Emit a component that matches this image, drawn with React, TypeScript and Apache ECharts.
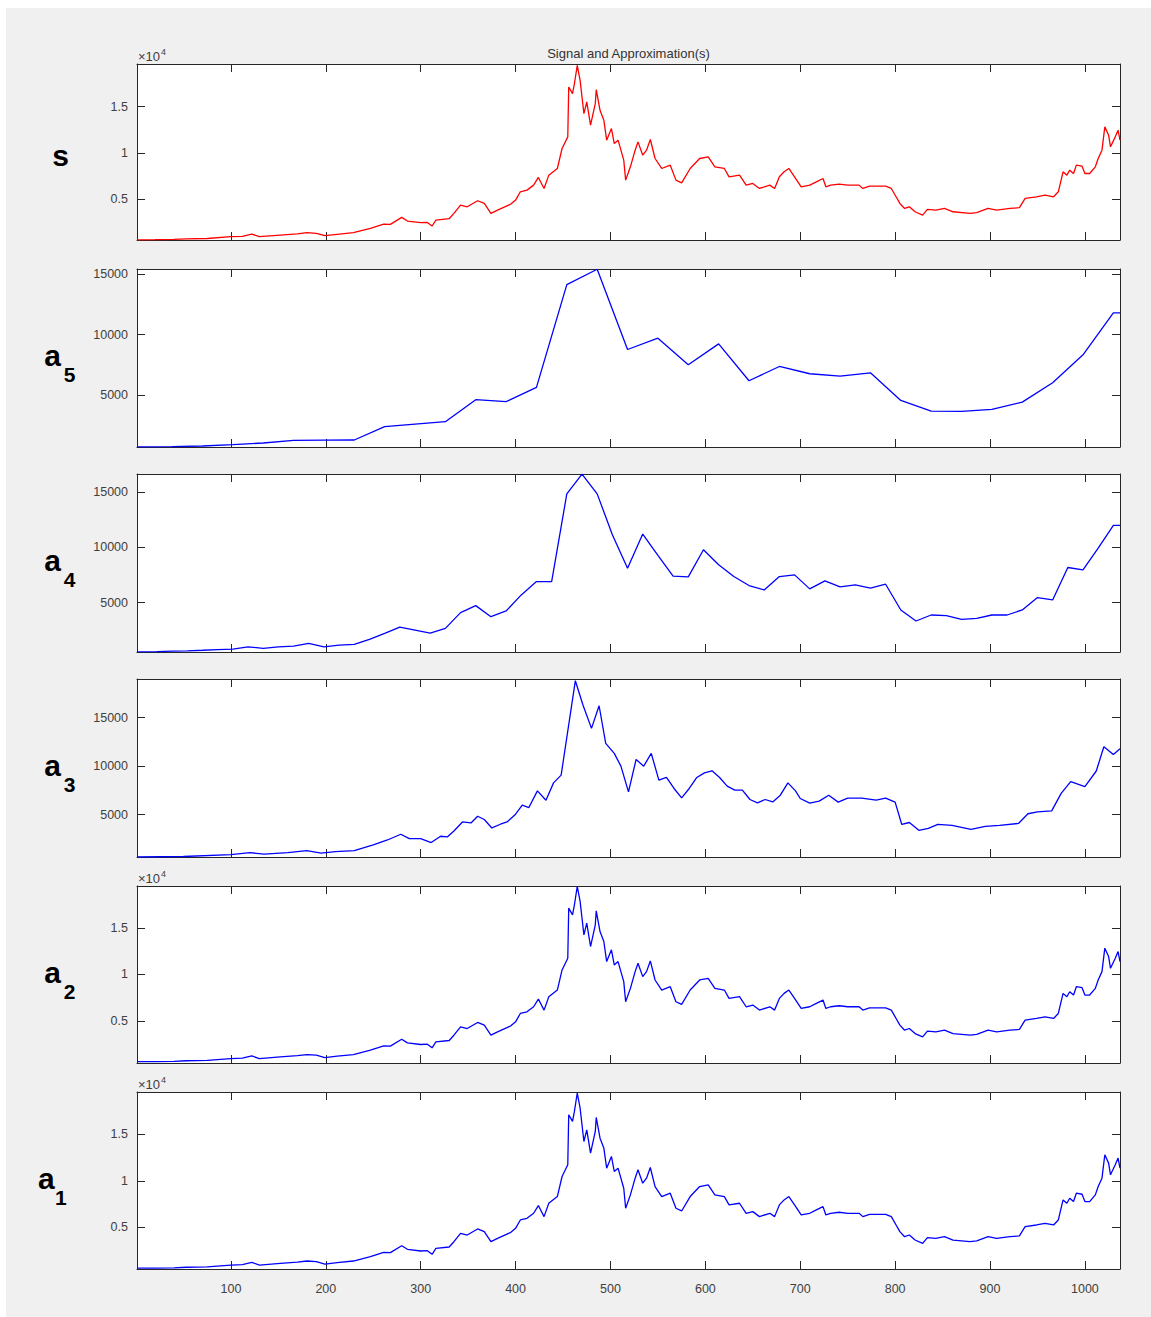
import React, { useEffect, useRef } from "react";
import * as echarts from "echarts";

// ---------- data ----------
const X_MIN = 1;
const X_MAX = 1037;
const X_TICKS = [100, 200, 300, 400, 500, 600, 700, 800, 900, 1000];
const Y_TICKS = [5000, 10000, 15000];

// signal s
const sX = [1, 20, 40, 53, 75, 100, 112, 122, 130, 152, 170, 180, 190, 199, 212, 229, 247, 261, 268, 280, 286, 300, 307, 312, 316, 330, 335, 342,
  349, 360, 367, 374, 381, 395, 400, 405, 412, 419, 424, 430, 435, 444, 449, 455, 456, 460, 462, 465, 468, 472, 475, 479, 484, 485, 489, 493, 496, 501, 504, 508, 514, 516, 521, 526, 529, 534, 538, 542, 547, 554, 563, 569, 575, 584, 594, 603, 610, 620, 625, 636, 643, 650, 657, 668, 673, 678, 683, 688,
  694, 701, 710, 717, 724, 727, 732, 741, 750, 762, 766, 773, 790, 796, 801, 805, 810, 815, 821, 829, 834, 843, 852, 861, 879, 886, 898, 907, 921, 931, 937, 949, 958, 967, 972, 977, 981, 984, 988, 991, 997, 1000, 1005, 1011, 1014, 1018, 1021, 1025, 1027, 1032, 1035, 1037];
const sY = [600, 610, 640, 700, 740, 935, 980, 1220, 935, 1115, 1250, 1370, 1300, 1040, 1190, 1370, 1840, 2300, 2270, 3020, 2630, 2450, 2480, 2090, 2730, 2880, 3450, 4350,
  4170, 4820, 4530, 3450, 3810, 4460, 4890, 5790, 5970, 6510, 7340, 6150, 7590, 8310, 10470, 11730, 17120, 16400, 17480, 19460, 17840, 14240, 15500, 12990, 15320, 16830, 14600, 13530, 11370, 12630, 11010, 11370, 9210, 7050, 8490, 10290, 11190, 9750, 10290, 11440, 9390, 8310, 8670, 7050, 6760, 8310, 9390, 9570, 8490, 8310, 7410, 7590, 6510, 6690, 6150, 6510, 6150, 7410, 7950, 8310,
  7410, 6330, 6510, 6870, 7230, 6330, 6510, 6620, 6510, 6510, 6150, 6400, 6400, 6150, 5250, 4530, 3990, 4170, 3630, 3270, 3890, 3810, 3990, 3630, 3450, 3530, 3990, 3810, 3990, 4070, 5070, 5250, 5430, 5250, 5790, 7950, 7590, 8130, 7770, 8670, 8560, 7770, 7770, 8490, 9390, 10290, 12810, 11910, 10650, 11730, 12450, 11370];

// approximation a5
const a5X = [1, 38, 70, 102, 134, 166, 198, 230, 262, 294, 326, 358, 390, 422, 454, 486, 518, 550, 582, 614, 646, 678, 710, 742, 774, 806, 838, 870, 902, 934, 966, 998, 1030, 1037];
const a5Y = [740, 760, 820, 930, 1065, 1290, 1310, 1313, 2413, 2627, 2823, 4631, 4467, 5643, 14110, 15380, 8767, 9698, 7509, 9233, 6194, 7370, 6770, 6575, 6851, 4575, 3695, 3670, 3835, 4435, 6030, 8331, 11784, 11784];

// approximation a4
const a4X = [1, 22, 38, 54, 70, 86, 102, 118, 134, 150, 166, 182, 198, 214, 230, 246, 262, 278, 294, 310, 326, 342, 358, 374, 390, 406, 422, 438, 454, 470, 486, 502, 518, 534, 550, 566, 582, 598, 614, 630, 646, 662, 678, 694, 710, 726, 742, 758, 774, 790, 806, 822, 838, 854, 870, 886, 902, 918, 934, 950, 966, 982, 998, 1014, 1030, 1037];
const a4Y = [560, 580, 620, 650, 700, 760, 801, 1012, 861, 1012, 1073, 1314, 1012, 1163, 1224, 1677, 2221, 2795, 2523, 2251, 2674, 4094, 4728, 3731, 4245, 5695, 6903, 6903, 14818, 16600, 14818, 11133, 8112, 11194, 9260, 7387, 7326, 9773, 8414, 7356, 6541, 6148, 7356, 7507, 6239, 6964, 6420, 6601, 6299, 6662, 4335, 3339, 3882, 3822, 3490, 3580, 3882, 3882, 4335, 5453, 5242, 8172, 7961, 9924, 11979, 11979];

// approximation a3
const a3X = [1, 50, 100, 120, 135, 160, 180, 195, 210, 230, 250, 265, 279, 288, 300, 311, 321, 328, 335, 344, 353, 360, 367, 375, 384, 391, 400, 407, 414, 423, 432, 440, 448, 463, 471, 480, 488, 495, 504, 511, 519, 527, 535, 543, 551, 559, 567, 575, 583, 591, 599, 607, 615, 623, 631, 639, 647, 655, 663, 671, 679, 687, 695, 700,
  710, 720, 730, 740, 750, 765, 780, 790, 800, 807, 815, 825, 835, 845, 860, 880, 895, 910, 930, 940, 950, 965, 975, 985, 1000, 1012, 1020, 1030, 1037];
const a3Y = [650, 700, 900, 1100, 950, 1100, 1300, 1050, 1200, 1300, 1900, 2400, 2990, 2546, 2546, 2134, 2783, 2711, 3330, 4258, 4155, 4845, 4505, 3639, 4021, 4258, 5052, 5980, 5742, 7454, 6495, 8279, 9072, 18795, 16290, 13887, 16217, 12341, 11310, 10000, 7351, 10691, 10000, 11310, 8557, 8835, 7701, 6732, 7701, 8835, 9310, 9516, 8835, 7938, 7526, 7526, 6567, 6217, 6567, 6320, 7011, 8279, 7454, 6670,
  6200, 6400, 7000, 6300, 6700, 6700, 6500, 6700, 6300, 4000, 4200, 3400, 3600, 4000, 3900, 3500, 3800, 3900, 4100, 5100, 5300, 5400, 7200, 8400, 7900, 9500, 12000, 11200, 11800];

// approximation a2
const a2X = sX;
const a2Y = sY;

// approximation a1
const a1X = sX;
const a1Y = sY;

// ---------- layout ----------
const PLOT_LEFT = 131;
const PLOT_WIDTH = 983;
const PANELS = [
  { name: "s", sub: "", top: 56, height: 176, min: 578, max: 19606, sci: true, color: "#ff0000", xs: sX, ys: sY, ax: 54.5, sx: 0 },
  { name: "a", sub: "5", top: 261, height: 178, min: 736, max: 15400, sci: false, color: "#0000ff", xs: a5X, ys: a5Y, ax: 46.5, sx: 63.7 },
  { name: "a", sub: "4", top: 466, height: 178, min: 541, max: 16614, sci: false, color: "#0000ff", xs: a4X, ys: a4Y, ax: 46.5, sx: 63.7 },
  { name: "a", sub: "3", top: 671, height: 178, min: 649, max: 18970, sci: false, color: "#0000ff", xs: a3X, ys: a3Y, ax: 46.5, sx: 63.7 },
  { name: "a", sub: "2", top: 878, height: 177, min: 460, max: 19500, sci: true, color: "#0000ff", xs: a2X, ys: a2Y, ax: 46.5, sx: 63.7 },
  { name: "a", sub: "1", top: 1084, height: 177, min: 510, max: 19570, sci: true, color: "#0000ff", xs: a1X, ys: a1Y, ax: 40.3, sx: 54.8 },
];

const AX_COLOR = "#262626";
const LABEL_COLOR = "#404040";
const FONT = "'Liberation Sans', Arial, sans-serif";

function buildOption() {
  const grid: any[] = [];
  const xAxis: any[] = [];
  const yAxis: any[] = [];
  const series: any[] = [];
  const graphic: any[] = [];
  const lineStyle = { color: AX_COLOR, width: 1 };

  PANELS.forEach((p, i) => {
    grid.push({
      left: PLOT_LEFT, width: PLOT_WIDTH, top: p.top, height: p.height,
      show: true, backgroundColor: "#ffffff", borderWidth: 0, containLabel: false,
    });
    const isLast = i === PANELS.length - 1;
    ["bottom", "top"].forEach((pos) => {
      xAxis.push({
        type: "value", gridIndex: i, position: pos, min: X_MIN, max: X_MAX,
        axisLine: { show: true, onZero: false, lineStyle },
        axisTick: { show: true, inside: true, length: 8, customValues: X_TICKS, lineStyle },
        axisLabel: {
          show: pos === "bottom" && isLast, customValues: X_TICKS, margin: 13,
          color: LABEL_COLOR, fontSize: 12.5, fontFamily: FONT,
          formatter: (v: number) => String(v),
        },
        splitLine: { show: false },
      });
    });
    ["left", "right"].forEach((pos) => {
      yAxis.push({
        type: "value", gridIndex: i, position: pos, min: p.min, max: p.max,
        axisLine: { show: true, onZero: false, lineStyle },
        axisTick: { show: true, inside: true, length: 8, customValues: Y_TICKS, lineStyle },
        axisLabel: {
          show: pos === "left", customValues: Y_TICKS, margin: 9,
          color: LABEL_COLOR, fontSize: 12.5, fontFamily: FONT,
          formatter: (v: number) => (p.sci ? String(v / 10000) : String(v)),
        },
        splitLine: { show: false },
      });
    });
    series.push({
      type: "line", xAxisIndex: 2 * i, yAxisIndex: 2 * i,
      data: p.xs.map((x, k) => [x, p.ys[k]]),
      showSymbol: false, symbol: "none", silent: true, clip: true,
      lineStyle: { color: p.color, width: 1.3 }, itemStyle: { color: p.color },
    });

    // side label
    if (p.sub === "") {
      graphic.push({
        type: "text", x: p.ax, y: p.top + 91.3,
        style: { text: p.name, fill: "#000", font: `bold 30px ${FONT}`, textAlign: "center", textVerticalAlign: "middle" },
      });
    } else {
      graphic.push({
        type: "text", x: p.ax, y: p.top + 86.3,
        style: { text: p.name, fill: "#000", font: `bold 30px ${FONT}`, textAlign: "center", textVerticalAlign: "middle" },
      });
      graphic.push({
        type: "text", x: p.sx, y: p.top + 105,
        style: { text: p.sub, fill: "#000", font: `bold 21px ${FONT}`, textAlign: "center", textVerticalAlign: "middle" },
      });
    }
    if (p.sci) {
      graphic.push({
        type: "text", x: PLOT_LEFT + 1, y: p.top - 7.5,
        style: { text: "×10", fill: LABEL_COLOR, font: `13px ${FONT}`, textAlign: "left", textVerticalAlign: "middle" },
      });
      graphic.push({
        type: "text", x: PLOT_LEFT + 24, y: p.top - 12,
        style: { text: "4", fill: LABEL_COLOR, font: `9px ${FONT}`, textAlign: "left", textVerticalAlign: "middle" },
      });
    }
  });

  graphic.push({
    type: "text", x: PLOT_LEFT + PLOT_WIDTH / 2, y: PANELS[0].top - 11,
    style: { text: "Signal and Approximation(s)", fill: "#333", font: `13px ${FONT}`, textAlign: "center", textVerticalAlign: "middle" },
  });

  return {
    animation: false,
    backgroundColor: "#f0f0f0",
    grid, xAxis, yAxis, series, graphic,
  };
}

export default function App() {
  const ref = useRef<HTMLDivElement>(null);
  useEffect(() => {
    const chart = echarts.init(ref.current as HTMLDivElement, null, { renderer: "svg" });
    chart.setOption(buildOption() as any);
    return () => chart.dispose();
  }, []);
  return <div ref={ref} style={{ position: "absolute", left: 6, top: 8, width: 1145, height: 1309 }} />;
}
